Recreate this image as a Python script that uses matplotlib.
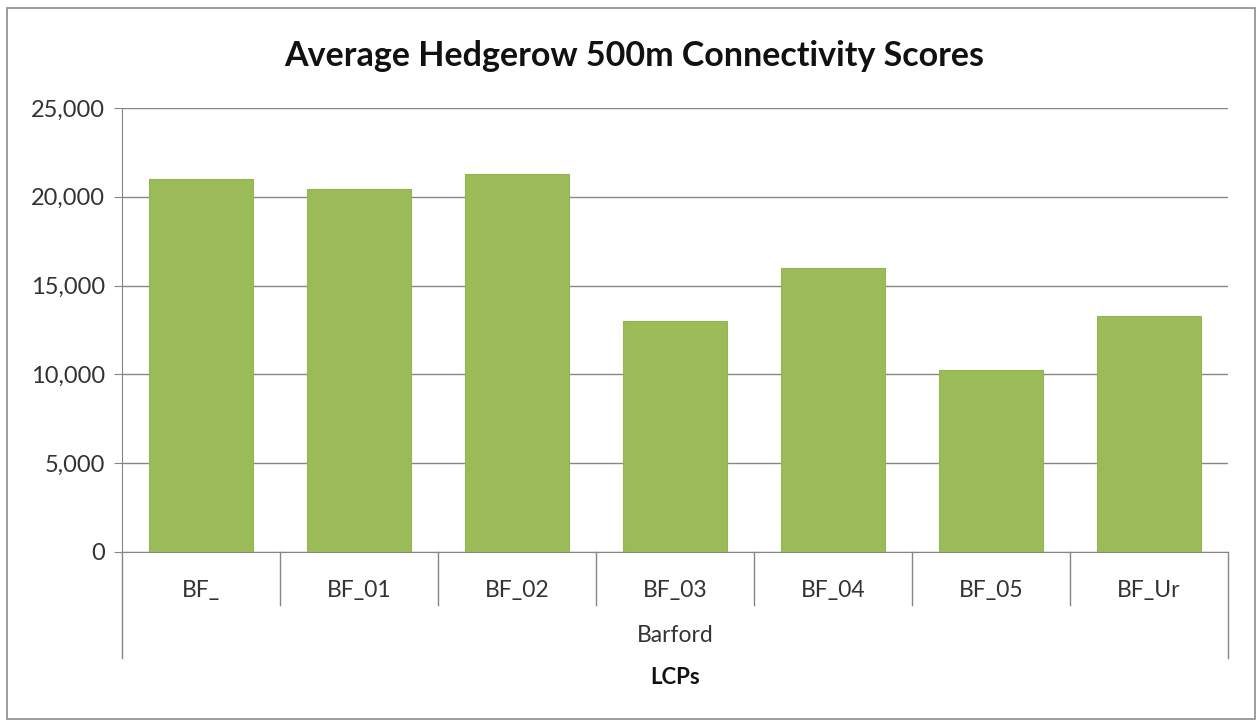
import matplotlib
matplotlib.use("Agg")
import matplotlib.pyplot as plt
from matplotlib.patches import Rectangle
from matplotlib.ticker import FuncFormatter, MultipleLocator

plt.rcParams['font.family'] = ['Lato', 'DejaVu Sans']

categories = ["BF_", "BF_01", "BF_02", "BF_03", "BF_04", "BF_05", "BF_Ur"]
values = [21000, 20450, 21300, 13000, 16000, 10250, 13300]
group_label = "Barford"
x_title = "LCPs"
title = "Average Hedgerow 500m Connectivity Scores"

W, H = 1258, 722
fig = plt.figure(figsize=(W / 100, H / 100), dpi=100)
fig.patch.set_facecolor("white")

# outer frame
fig.add_artist(Rectangle((7 / W, 3 / H), (1255 - 7) / W, (714 - 3) / H,
                         transform=fig.transFigure, fill=False,
                         edgecolor="#8c8c8c", linewidth=1.2))

left, right, top, bottom = 122, 1228, 108, 552
ax = fig.add_axes([left / W, 1 - bottom / H, (right - left) / W, (bottom - top) / H])

n = len(categories)
ax.bar(range(n), values, width=0.66, color="#9BBB59", edgecolor="#93b552",
       linewidth=0.8, zorder=3)
ax.set_xlim(-0.5, n - 0.5)
ax.set_ylim(0, 25000)
ax.yaxis.set_major_locator(MultipleLocator(5000))
ax.yaxis.set_major_formatter(FuncFormatter(lambda v, p: f"{int(v):,}"))
ax.grid(axis="y", color="#868686", linewidth=1.0, zorder=0)
for s in ["top", "right"]:
    ax.spines[s].set_visible(False)
ax.spines["left"].set_color("#868686")
ax.spines["bottom"].set_color("#868686")
ax.tick_params(axis="y", length=6, color="#868686", labelsize=17,
               labelcolor="#333333", pad=6)
ax.set_xticks(range(n))
ax.set_xticklabels(categories)
ax.tick_params(axis="x", length=0, labelsize=16.5, labelcolor="#333333", pad=20)

# category separators below the axis
trans = ax.get_xaxis_transform()
sep_len = (605 - 552) / (bottom - top)
grp_len = (658 - 552) / (bottom - top)
for i in range(n + 1):
    xb = i - 0.5
    length = grp_len if i in (0, n) else sep_len
    ax.plot([xb, xb], [0, -length], transform=trans, color="#868686",
            linewidth=1.0, clip_on=False)

ax.text((n - 1) / 2, -(636 - 552) / (bottom - top), group_label, transform=trans,
        ha="center", va="center", fontsize=16.5, color="#333333")
ax.text((n - 1) / 2, -(677 - 552) / (bottom - top), x_title, transform=trans,
        ha="center", va="center", fontsize=16, fontweight="bold", color="#111111")

fig.text(634 / W, 1 - 56 / H, title, ha="center", va="center",
         fontsize=24.5, fontweight="bold", color="#111111")

fig.savefig("out.png", dpi=100, facecolor="white")
